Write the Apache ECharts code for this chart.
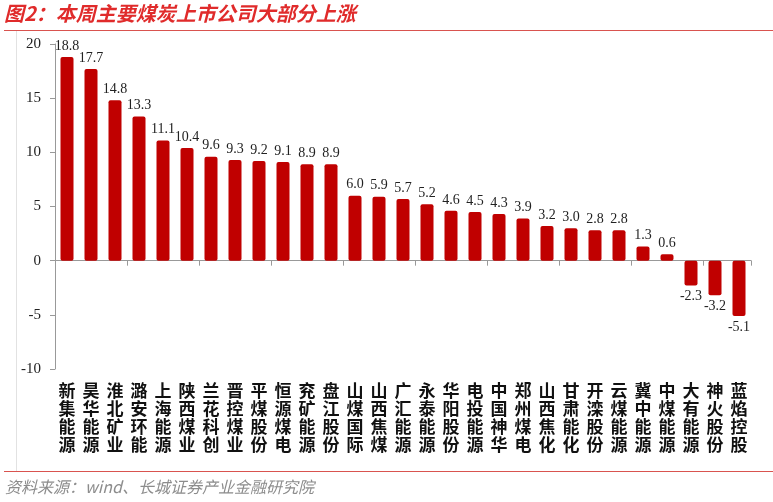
<!DOCTYPE html>
<html><head><meta charset="utf-8">
<script src="https://cdn.jsdelivr.net/npm/echarts@6/dist/echarts.min.js"></script>
<style>html,body{margin:0;padding:0;background:#fff}#c{width:773px;height:502px}</style>
</head><body><div id="c"></div>
<script>
const categories = ['新集能源','昊华能源','淮北矿业','潞安环能','上海能源','陕西煤业','兰花科创','晋控煤业','平煤股份','恒源煤电','兖矿能源','盘江股份','山煤国际','山西焦煤','广汇能源','永泰能源','华阳股份','电投能源','中国神华','郑州煤电','山西焦化','甘肃能化','开滦股份','云煤能源','冀中能源','中煤能源','大有能源','神火股份','蓝焰控股'];
const changes = [18.8,17.7,14.8,13.3,11.1,10.4,9.6,9.3,9.2,9.1,8.9,8.9,6.0,5.9,5.7,5.2,4.6,4.5,4.3,3.9,3.2,3.0,2.8,2.8,1.3,0.6,-2.3,-3.2,-5.1];
const yTicks = [-10,-5,0,5,10,15,20];

const chart = echarts.init(document.getElementById('c'));
const serif = '"Liberation Serif","Times New Roman",serif';
chart.setOption({
  animation:false,
  backgroundColor:'#fff',
  graphic:[
    {type:'text',left:4,top:3,style:{text:'图2：本周主要煤炭上市公司大部分上涨',fill:'#E02B2B',font:'italic bold 20px "Noto Sans CJK SC"'}},
    {type:'line',shape:{x1:4,y1:30.5,x2:773,y2:30.5},style:{stroke:'#D9534F',lineWidth:1.2}},
    {type:'line',shape:{x1:16.5,y1:31,x2:16.5,y2:471},style:{stroke:'#E2E2E2',lineWidth:1}},
    {type:'line',shape:{x1:4,y1:471.5,x2:773,y2:471.5},style:{stroke:'#D9534F',lineWidth:1.2}},
    {type:'text',left:5,top:479,style:{text:'资料来源：wind、长城证券产业金融研究院',fill:'#8C8C8C',font:'italic 16px "Noto Sans CJK SC"'}}
  ],
  grid:{left:55,right:22,top:44,bottom:133,containLabel:false},
  xAxis:[
    {type:'category',data:categories,position:'bottom',
     axisLine:{onZero:true,lineStyle:{color:'#999'}},
     axisTick:{show:true,length:5,lineStyle:{color:'#999'}},
     axisLabel:{show:false}},
    {type:'category',data:categories,position:'bottom',
     axisLine:{show:false,onZero:false},axisTick:{show:false},
     axisLabel:{show:true,interval:0,margin:13,color:'#111',
       fontFamily:'"Noto Sans CJK SC"',fontWeight:'bold',fontSize:17,lineHeight:18,
       verticalAlign:'top',
       formatter:v=>v.split('').join('\n')}}
  ],
  yAxis:{type:'value',min:-10,max:20,interval:5,
    axisLine:{show:true,lineStyle:{color:'#999'}},
    axisTick:{show:true,inside:false,length:5,lineStyle:{color:'#999'}},
    splitLine:{show:false},
    axisLabel:{color:'#222',fontFamily:serif,fontSize:15,margin:14,
      formatter:v=>yTicks.includes(v)?String(v):''}},
  series:[{type:'bar',data:changes,xAxisIndex:0,barWidth:13,
    itemStyle:{color:'#C00000',borderRadius:2},
    label:{show:true,position:'outside',color:'#222',fontFamily:serif,fontSize:14,distance:4,
      formatter:p=>p.value.toFixed(1)},
    labelLayout:{hideOverlap:false}
  }]
});
chart.setOption({series:[{data:changes.map(v=>({value:v,label:{position:v<0?'bottom':'top'}}))}]});
</script></body></html>
